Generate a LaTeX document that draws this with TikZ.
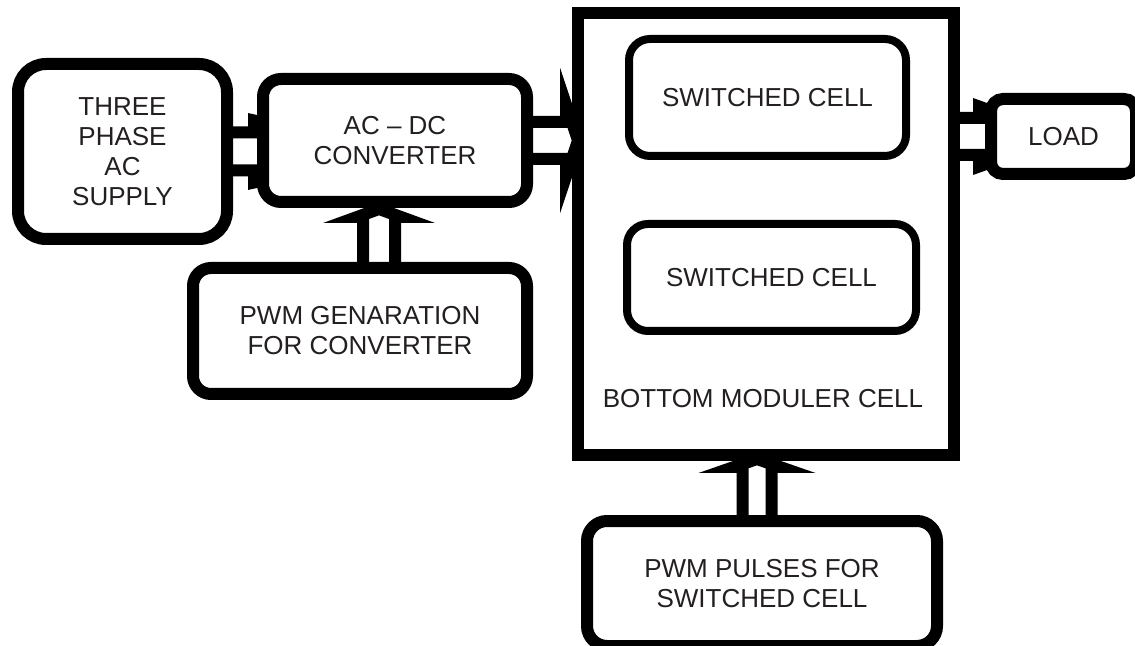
\documentclass[tikz,border=0pt]{standalone}
\usepackage{fontspec}
\setmainfont{Liberation Sans}
\definecolor{ink}{RGB}{35, 31, 32}
\usetikzlibrary{positioning,calc,backgrounds}

\begin{document}
\begin{tikzpicture}[x=0.5pt, y=-0.5pt, font=\fontsize{13}{15}\selectfont]
                \tikzstyle{blockbox} = [draw, fill=white, rectangle, line width=6pt, outer sep=0pt, align=center, text=ink]
                \tikzstyle{cellbox} = [draw, fill=white, rectangle, rounded corners=10.5pt, line width=4pt, outer sep=0pt, text=ink]
                \tikzset{fatarrow/.style n args={3}{draw, fill=white, line width=6pt, line join=miter,
                    to path={($(\tikztostart)!#1!90:(\tikztotarget)$)
                        -- ($(\tikztotarget)!#3!(\tikztostart)!#1!-90:(\tikztostart)$)
                        -- ($(\tikztotarget)!#3!(\tikztostart)!#2!-90:(\tikztostart)$)
                        -- (\tikztotarget)
                        -- ($(\tikztotarget)!#3!(\tikztostart)!#2!90:(\tikztostart)$)
                        -- ($(\tikztotarget)!#3!(\tikztostart)!#1!90:(\tikztostart)$)
                        -- ($(\tikztostart)!#1!-90:(\tikztotarget)$) -- cycle}}}

                \useasboundingbox (0,0) rectangle (1135,646);
                \clip (0,0) rectangle (1135,646);

                \node [blockbox, rounded corners=14pt, minimum width=104.5pt, minimum height=87.5pt] (supply) at (122.5,151.5) {THREE\\PHASE\\AC\\SUPPLY};
                \node [blockbox, rounded corners=9pt, minimum width=132pt, minimum height=61.5pt, right=18pt of supply, yshift=5.5pt] (acdc) {AC -- DC\\CONVERTER};
                \node [blockbox, rounded corners=9pt, minimum width=167pt, minimum height=63pt, below=33pt of acdc.south east, anchor=north east] (pwmgen) {PWM GENARATION\\FOR CONVERTER};
                \node [blockbox, minimum width=188pt, minimum height=221pt, right=25.5pt of acdc, yshift=-46.75pt] (bigbox) {};
                \node [cellbox, minimum width=138.5pt, minimum height=58.5pt, below=13pt of bigbox.north, xshift=0.75pt] (cell1) {SWITCHED CELL};
                \node [cellbox, minimum width=144.5pt, minimum height=53.5pt, below=34pt of cell1, xshift=2pt] (cell2) {SWITCHED CELL};
                \node [text=ink, inner sep=0pt] (modlabel) at ([xshift=-1.5pt, yshift=28pt]bigbox.south) {BOTTOM MODULER CELL};
                \node [blockbox, rounded corners=6pt, minimum width=72.5pt, minimum height=37.5pt, right=18.5pt of bigbox, yshift=48.75pt] (load) {LOAD};
                \node [blockbox, rounded corners=10pt, minimum width=175pt, minimum height=62.5pt, below=33pt of bigbox, xshift=-2pt] (pwmpulses) {PWM PULSES FOR\\SWITCHED CELL};

                % hollow block arrows, tips hidden under the boxes
                \begin{scope}[on background layer]
                    \draw [fatarrow={9.5pt}{15.5pt}{70.5pt}] (supply.center) to (supply.center -| acdc.center);
                    \draw [fatarrow={9.25pt}{18pt}{6pt}] (acdc.center) to (acdc.center -| bigbox.west);
                    \draw [fatarrow={8pt}{11pt}{4pt}] ([xshift=9.5pt]pwmgen.center) to ([xshift=-8pt, yshift=-3.5pt]acdc.south);
                    \draw [fatarrow={9.25pt}{15pt}{42.25pt}] (bigbox.center |- load.center) to (load.center);
                    \draw [fatarrow={7.25pt}{11.5pt}{4pt}] ([xshift=-2.5pt]pwmpulses.center) to ([xshift=-4.5pt, yshift=-2pt]bigbox.south);
                \end{scope}
            \end{tikzpicture}
\end{document}
